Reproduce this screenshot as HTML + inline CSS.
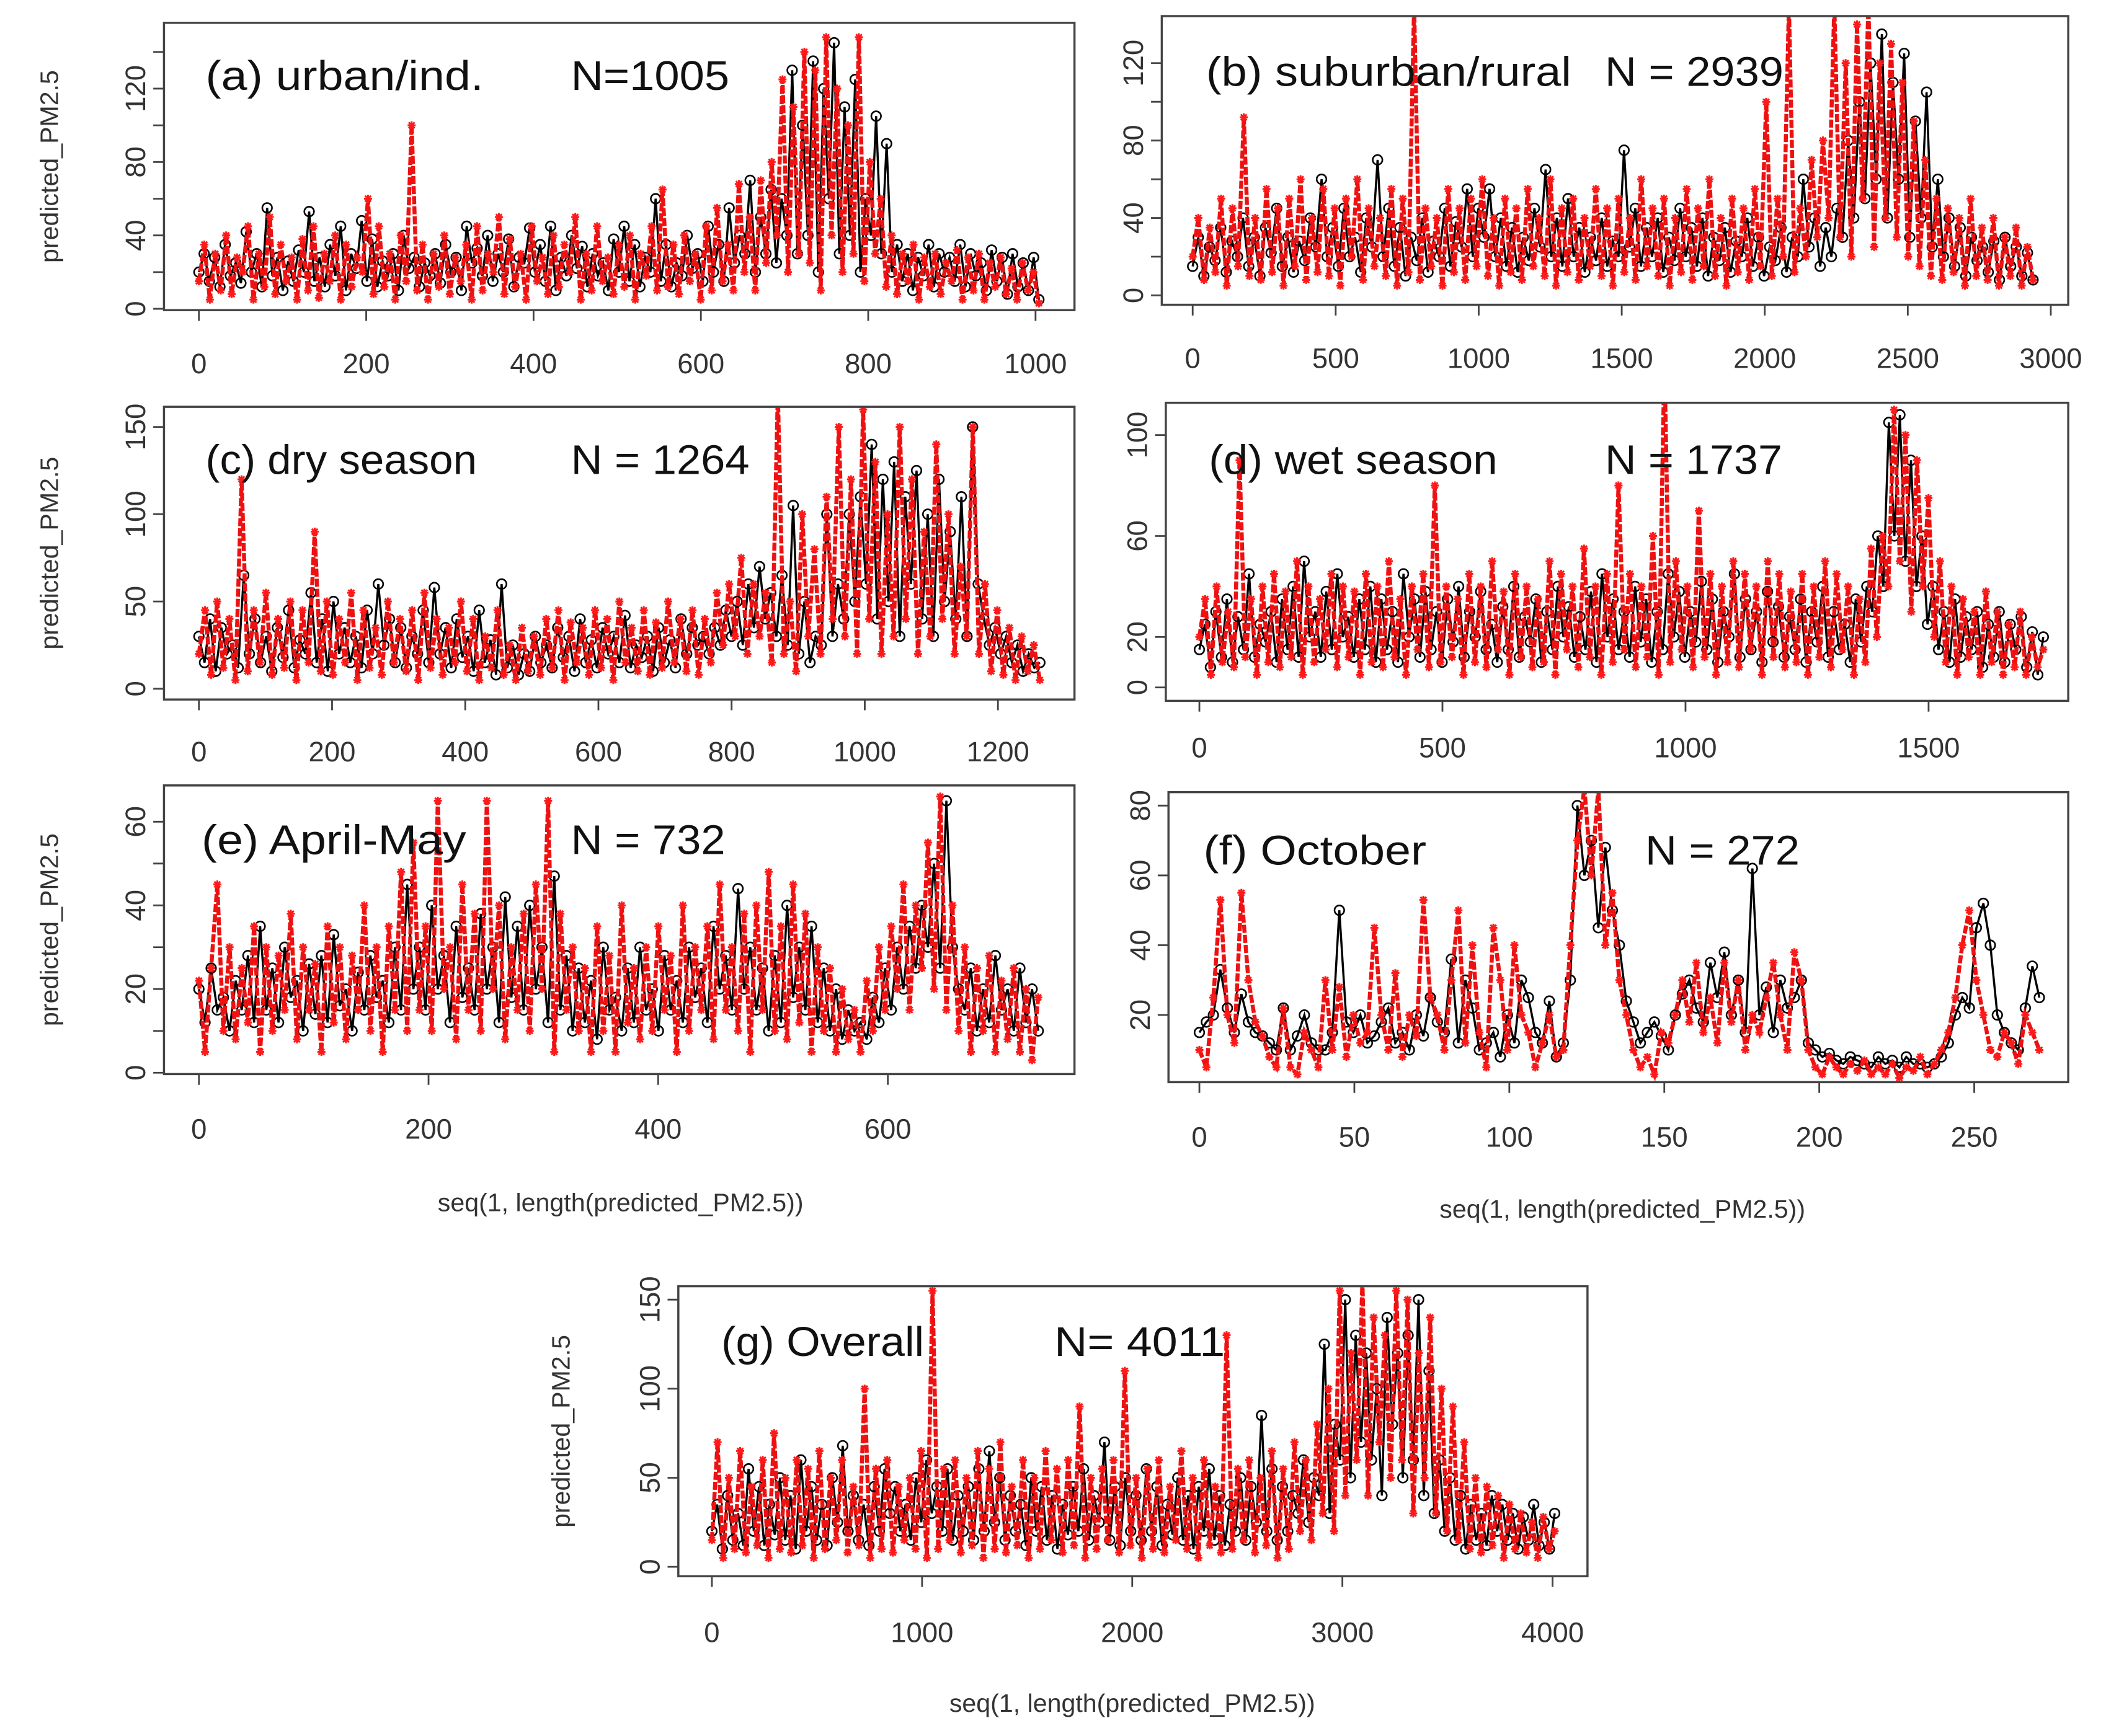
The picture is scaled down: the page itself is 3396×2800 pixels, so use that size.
<!DOCTYPE html>
<html><head><meta charset="utf-8"><style>
html,body{margin:0;padding:0;background:#fff}
svg{display:block}
text{font-family:"Liberation Sans",sans-serif}
.ttl{font-family:"Liberation Sans",sans-serif;font-size:31px;fill:#111}
.tick{font-size:21px;fill:#333}
.lab{font-size:19px;fill:#333}
</style></head><body>
<svg id="chart" width="3396" height="2800" viewBox="0 0 1568 1293" xmlns="http://www.w3.org/2000/svg"></svg>
<script>
// ---- data ----
const xTicksA=[0,200,400,600,800,1000];
const yTicksA=[0,40,80,120];
const blackA=[20,30,15,28,12,35,18,25,14,42,20,30,12,55,18,28,10,26,15,32,20,53,15,28,12,35,18,45,10,30,22,48,15,38,12,26,18,30,10,40,22,28,12,25,18,30,14,35,20,28,10,45,25,33,18,40,15,30,20,38,12,28,25,44,20,35,15,45,10,28,18,40,22,34,12,30,18,25,10,38,20,45,15,35,12,28,20,60,15,35,12,25,18,40,22,30,15,45,20,35,15,55,25,40,30,70,20,50,30,65,25,60,40,130,30,100,40,135,20,120,60,145,30,110,40,125,20,60,40,105,30,90,20,35,15,30,10,28,18,35,12,30,20,28,15,35,12,30,18,25,10,32,15,28,8,30,12,25,10,28,5];
const redA=[15,35,5,30,10,40,8,28,20,45,5,30,12,50,8,35,15,28,5,38,10,45,6,30,15,40,5,35,12,28,20,60,8,45,12,30,5,40,15,100,10,35,5,30,12,40,8,28,15,35,5,45,10,30,20,50,8,38,12,30,5,45,15,28,8,40,12,35,20,50,5,30,10,45,15,28,8,35,12,40,5,30,18,45,10,65,12,35,8,40,15,30,5,45,10,55,15,35,10,68,20,50,10,70,25,80,40,125,20,110,30,140,25,130,10,148,40,120,20,100,30,148,15,80,30,60,12,40,8,30,15,35,5,28,12,30,8,25,15,32,5,28,10,30,5,25,12,28,8,22,5,25,10,20,3];
const xTicksB=[0,500,1000,1500,2000,2500,3000];
const yTicksB=[0,40,80,120];
const blackB=[15,30,10,25,18,35,12,28,20,40,15,30,10,35,22,45,15,30,12,28,18,40,25,60,20,35,15,45,20,30,12,40,25,70,20,45,15,35,10,30,18,40,12,28,20,45,15,38,25,55,20,45,30,55,20,40,15,35,12,30,18,45,25,65,20,40,15,50,20,35,12,30,18,40,15,28,20,75,25,45,15,35,20,40,12,30,18,45,20,35,15,40,10,30,18,35,12,28,20,40,15,30,10,25,18,35,12,30,20,60,25,40,15,35,20,45,30,80,40,100,50,120,60,135,40,110,60,125,30,90,40,105,25,60,20,40,15,35,10,30,18,25,12,28,8,30,15,25,10,22,8];
const redB=[20,40,8,35,12,50,5,45,15,92,10,40,8,55,12,45,5,50,15,60,8,40,12,55,10,45,5,50,20,60,8,45,15,40,10,55,5,50,12,150,8,45,15,40,5,55,12,45,8,50,15,60,10,40,5,50,12,45,8,55,15,40,10,60,5,45,12,50,8,40,15,55,10,45,5,50,12,40,8,60,15,45,10,50,5,40,12,55,8,45,15,60,10,40,5,50,12,45,8,55,15,100,10,50,20,150,12,45,20,70,30,80,40,150,30,120,20,140,50,150,25,120,40,130,30,110,20,90,15,70,10,50,8,45,12,40,5,50,10,35,8,40,5,30,10,35,5,25,8];
const xTicksC=[0,200,400,600,800,1000,1200];
const yTicksC=[0,50,100,150];
const blackC=[30,15,40,10,35,20,25,12,65,20,40,15,30,10,35,18,45,12,28,20,55,15,40,10,50,20,35,15,30,12,45,20,60,25,40,15,35,12,30,20,45,15,58,20,35,12,40,18,30,10,45,15,28,8,60,12,25,8,20,10,30,15,25,12,35,18,30,10,40,15,28,12,35,20,30,15,42,12,25,18,30,10,35,15,28,12,40,20,35,25,30,20,35,25,45,30,50,25,60,35,70,40,55,30,65,25,105,20,50,15,30,25,100,30,60,40,100,50,110,60,140,40,120,50,130,30,110,60,125,40,100,30,120,50,90,40,110,30,150,60,40,25,35,20,30,15,25,10,20,12,15];
const redC=[20,45,8,50,12,40,5,120,10,45,15,55,8,40,12,50,5,45,15,90,10,50,8,40,15,55,5,45,12,35,8,50,15,40,10,45,5,55,12,40,8,35,15,50,10,40,5,30,12,45,8,25,5,35,10,30,8,40,12,45,5,38,15,35,8,45,12,40,5,50,15,35,10,45,8,38,12,50,15,40,10,45,8,40,15,55,25,60,30,75,20,60,30,55,15,170,20,50,10,100,30,80,20,110,40,150,30,120,20,160,40,130,20,100,30,150,40,120,20,90,30,140,40,100,20,70,30,150,20,60,10,45,8,35,5,30,10,25,5];
const xTicksD=[0,500,1000,1500];
const yTicksD=[0,20,60,100];
const blackD=[15,25,8,30,12,35,10,28,15,45,12,25,18,30,10,35,15,40,12,50,20,30,12,38,15,45,20,28,12,35,15,40,10,35,15,30,10,45,20,35,12,38,15,30,10,35,18,40,12,30,20,38,15,25,10,32,15,40,12,28,18,35,10,30,15,40,20,32,12,28,15,38,10,45,20,35,15,30,12,40,18,35,10,30,15,45,20,38,12,30,18,42,15,35,10,30,20,45,12,35,15,30,10,38,18,32,12,28,15,35,10,30,18,40,12,30,15,25,10,35,18,40,30,60,40,105,60,108,50,90,40,60,25,40,15,30,10,35,12,28,15,30,8,25,12,30,10,25,15,28,8,22,5,20];
const redD=[20,35,5,40,10,30,8,90,12,35,5,40,10,45,8,38,12,50,5,40,10,35,15,45,8,40,12,38,5,45,10,40,8,50,12,35,5,40,15,45,8,80,10,40,12,35,5,45,10,40,8,50,15,38,5,45,12,40,8,35,10,50,5,45,15,40,8,55,12,40,5,45,10,80,15,45,8,40,12,60,5,130,10,50,15,40,8,70,12,45,5,40,10,50,8,45,15,40,5,50,12,45,8,38,10,45,5,40,12,50,8,45,15,40,5,35,10,55,20,60,40,110,50,100,30,90,40,75,20,50,10,40,5,35,12,30,5,38,10,30,5,25,8,30,5,20,8,15];
const xTicksE=[0,200,400,600];
const yTicksE=[0,20,40,60];
const blackE=[20,12,25,15,18,10,22,15,28,12,35,15,25,12,30,18,22,10,26,14,28,12,33,16,20,10,24,15,28,18,22,12,30,15,45,20,30,15,40,20,28,12,35,18,25,15,38,20,30,12,42,18,35,15,40,20,30,12,47,15,28,10,25,12,22,8,30,15,18,10,25,12,30,15,20,10,28,15,22,12,30,18,25,12,35,20,28,15,44,20,30,15,25,10,28,12,40,18,30,15,35,12,25,10,20,8,15,10,12,8,18,12,25,15,30,20,35,25,40,30,50,25,65,30,20,15,25,10,20,12,28,15,20,10,25,12,20,10];
const redE=[22,5,25,45,10,30,8,25,12,35,5,30,10,28,15,38,8,30,15,26,5,35,12,30,8,28,15,40,10,30,5,35,15,48,10,55,15,35,10,65,20,30,8,45,15,38,10,65,20,40,8,30,15,38,10,45,20,65,5,38,15,30,10,25,5,35,10,28,5,40,12,25,8,30,10,35,15,28,5,40,10,30,15,35,8,45,15,30,10,38,5,40,15,48,10,35,8,45,12,38,5,30,10,25,5,20,8,15,5,22,10,30,15,35,20,45,15,40,25,55,20,66,15,40,10,30,5,25,10,28,5,22,8,25,5,20,3,18];
const xTicksF=[0,50,100,150,200,250];
const yTicksF=[20,40,60,80];
const blackF=[15,18,20,33,22,15,26,18,15,14,12,10,22,10,14,20,12,10,10,15,50,18,15,20,12,14,18,22,12,15,10,20,14,25,18,15,36,12,30,22,10,12,15,8,20,12,30,25,15,12,24,8,12,30,80,60,70,45,68,50,40,24,18,12,15,18,14,10,20,26,30,22,18,35,25,38,20,30,15,62,20,28,15,30,22,25,30,12,10,8,9,7,6,8,7,6,5,8,6,7,5,8,6,6,5,6,8,12,20,25,22,45,52,40,20,15,12,10,22,34,25];
const redF=[10,5,25,53,20,12,55,30,18,14,8,5,22,5,3,15,10,5,30,10,28,8,20,12,15,45,20,10,32,8,20,14,53,25,20,10,30,50,12,40,15,5,45,30,10,40,20,15,5,12,20,8,10,40,70,85,60,85,40,55,30,20,10,5,8,3,15,12,20,30,18,35,15,25,12,35,18,30,10,20,15,25,35,20,10,38,30,10,5,3,8,5,3,6,4,7,3,5,3,6,2,5,4,8,3,6,10,15,25,40,50,30,20,10,8,15,12,6,20,15,10];
const xTicksG=[0,1000,2000,3000,4000];
const yTicksG=[0,50,100,150];
const blackG=[20,35,10,40,15,30,12,55,20,45,12,35,18,50,15,40,10,60,20,45,15,35,12,50,25,68,20,40,15,35,12,45,20,55,30,45,20,35,15,50,25,60,30,45,20,55,15,40,20,45,15,55,20,65,25,50,15,40,20,35,12,50,20,45,15,40,10,35,18,45,20,55,15,40,25,70,15,45,12,50,20,40,15,55,20,45,12,35,18,50,15,40,10,45,20,55,15,40,12,35,20,50,15,45,25,85,20,55,15,45,20,40,30,60,25,50,40,125,30,80,60,150,50,130,70,120,60,100,40,140,80,120,50,130,60,150,40,110,30,60,20,50,15,40,10,35,15,30,12,40,20,35,15,30,10,28,15,35,12,25,10,30];
const redG=[15,70,5,50,10,65,8,45,12,60,5,75,10,50,8,60,12,55,5,65,10,50,15,60,8,45,12,100,5,55,10,60,8,45,15,50,10,65,5,155,10,55,15,60,8,50,12,65,5,55,10,70,8,45,12,60,5,50,10,65,15,55,8,60,12,90,5,50,10,55,15,60,8,110,12,50,5,55,10,60,8,45,15,65,10,50,5,60,12,45,8,130,10,55,15,60,8,50,12,65,5,55,10,70,20,60,15,80,30,100,20,155,40,120,60,160,40,140,70,130,50,155,60,150,30,120,50,140,30,100,20,90,15,70,10,50,8,45,12,40,5,35,10,30,8,25,5,28,10,20];

const panels=[
 {id:'a',box:[122,17,800,231],x0:148,xr:1000,xrp:771,y0:230,yr:120,yrp:66,N:1005,xt:xTicksA,yt:yTicksA,minor:20,ymax:140,bk:blackA,rd:redA,t:'(a) urban/ind.',tw:207,tx:153,ty:67,n:'N=1005',nw:118,nx:425,ylab:37,xlab:null,xly:278},
 {id:'b',box:[865,12,1540,227],x0:888,xr:3000,xrp:1527,y0:220,yr:120,yrp:47,N:2939,xt:xTicksB,yt:yTicksB,minor:20,ymax:130,bk:blackB,rd:redB,t:'(b) suburban/rural',tw:272,tx:898,ty:64,n:'N = 2939',nw:133,nx:1195,ylab:null,xlab:null,xly:274},
 {id:'c',box:[122,303,800,521],x0:148,xr:1200,xrp:743,y0:513,yr:150,yrp:318,N:1264,xt:xTicksC,yt:yTicksC,minor:null,ymax:150,bk:blackC,rd:redC,t:'(c) dry season',tw:202,tx:153,ty:353,n:'N = 1264',nw:133,nx:425,ylab:37,xlab:null,xly:567},
 {id:'d',box:[868,300,1540,522],x0:893,xr:1500,xrp:1436,y0:512,yr:100,yrp:324,N:1737,xt:xTicksD,yt:yTicksD,minor:null,ymax:100,bk:blackD,rd:redD,t:'(d) wet season',tw:215,tx:900,ty:353,n:'N = 1737',nw:132,nx:1195,ylab:null,xlab:null,xly:564},
 {id:'e',box:[122,585,800,800],x0:148,xr:600,xrp:661,y0:799,yr:60,yrp:612,N:732,xt:xTicksE,yt:yTicksE,minor:10,ymax:60,bk:blackE,rd:redE,t:'(e) April-May',tw:197,tx:150,ty:636,n:'N = 732',nw:115,nx:425,ylab:37,xlab:[462,902],xly:848},
 {id:'f',box:[870,590,1540,806],x0:893,xr:250,xrp:1470,y0:808,yr:80,yrp:600,N:272,xt:xTicksF,yt:yTicksF,minor:null,ymax:80,bk:blackF,rd:redF,t:'(f) October',tw:166,tx:896,ty:644,n:'N = 272',nw:115,nx:1225,ylab:null,xlab:[1208,907],xly:854},
 {id:'g',box:[505,958,1182,1174],x0:530,xr:4000,xrp:1156,y0:1167,yr:150,yrp:968,N:4011,xt:xTicksG,yt:yTicksG,minor:null,ymax:150,bk:blackG,rd:redG,t:'(g) Overall',tw:151,tx:537,ty:1010,n:'N= 4011',nw:127,nx:785,ylab:418,xlab:[843,1275],xly:1223}
];
const NS='http://www.w3.org/2000/svg';
const svg=document.getElementById('chart');
function mk(tag,attrs,parent){const e=document.createElementNS(NS,tag);for(const k in attrs)e.setAttribute(k,attrs[k]);(parent||svg).appendChild(e);return e;}
panels.forEach(p=>{
 const g=mk('g',{});
 
 
 const xs=v=>p.x0+v*(p.xrp-p.x0)/p.xr;
 const ys=v=>p.y0-v*(p.y0-p.yrp)/p.yr;
 const [L,T,R,B]=p.box;
 const cp=mk('clipPath',{id:'clip'+p.id},g);
 mk('rect',{x:L,y:T,width:R-L,height:B-T},cp);
 const plot=mk('g',{'clip-path':'url(#clip'+p.id+')'},g);
 
 
 const pos=(arr,i)=>xs(i*(p.N-1)/(arr.length-1));
 const bpts=p.bk.map((v,i)=>pos(p.bk,i).toFixed(1)+','+ys(v).toFixed(1)).join(' ');
 const bl=mk('polyline',{points:bpts,fill:'none',stroke:'#000','stroke-width':1.6},plot);
 
 
 p.bk.forEach((v,i)=>{
  const c=mk('circle',{cx:pos(p.bk,i),cy:ys(v),r:3.6,fill:'none',stroke:'#000','stroke-width':1.2},plot);
  
  
 });
 const rpts=p.rd.map((v,i)=>pos(p.rd,i).toFixed(1)+','+ys(v).toFixed(1)).join(' ');
 const rl=mk('polyline',{points:rpts,fill:'none',stroke:'#ee1111','stroke-width':3,'stroke-dasharray':'6,1.5'},plot);
 
 
 p.rd.forEach((v,i)=>{
  const x=pos(p.rd,i),y=ys(v),s=3;
  const st=mk('path',{d:`M${x-s},${y}H${x+s}M${x},${y-s}V${y+s}M${x-2.2},${y-2.2}L${x+2.2},${y+2.2}M${x-2.2},${y+2.2}L${x+2.2},${y-2.2}`,stroke:'#ff1a1a','stroke-width':1.4},plot);
  
  
 });
 const bx=mk('rect',{x:L,y:T,width:R-L,height:B-T,fill:'none',stroke:'#444','stroke-width':1.6},g);
 
 
 p.xt.forEach(v=>{
  const x=xs(v);
  mk('line',{x1:x,y1:B,x2:x,y2:B+8,stroke:'#444','stroke-width':1.3},g);
  const t=mk('text',{x:x,y:p.xly,'text-anchor':'middle',class:'tick'},g);
  t.textContent=v;
  
  
 });
 const step=p.minor;
 const yvals=[];
 if(step){for(let v=0;v<=p.ymax;v+=step)yvals.push(v);} else p.yt.forEach(v=>yvals.push(v));
 yvals.forEach(v=>mk('line',{x1:L-8,y1:ys(v),x2:L,y2:ys(v),stroke:'#444','stroke-width':1.3},g));
 p.yt.forEach(v=>{
  const y=ys(v),x=L-14;
  const t=mk('text',{x:x,y:y,'text-anchor':'middle',transform:`rotate(-90 ${x} ${y})`,class:'tick'},g);
  t.textContent=v;
  
  
 });
 if(p.ylab){
  const cy=(T+B)/2, x=p.ylab+6;
  const t=mk('text',{x:x,y:cy,'text-anchor':'middle',transform:`rotate(-90 ${x} ${cy})`,class:'lab'},g);
  t.textContent='predicted_PM2.5';
  
  
 }
 if(p.xlab){
  const t=mk('text',{x:p.xlab[0],y:p.xlab[1],'text-anchor':'middle',class:'lab'},g);
  t.textContent='seq(1, length(predicted_PM2.5))';
  
  
 }
 const tt=mk('text',{x:p.tx,y:p.ty,class:'ttl',textLength:p.tw,lengthAdjust:'spacingAndGlyphs'},g);
 tt.textContent=p.t;
 
 
 const nt=mk('text',{x:p.nx,y:p.ty,class:'ttl',textLength:p.nw,lengthAdjust:'spacingAndGlyphs'},g);
 nt.textContent=p.n;
 
 
});
</script>
</body></html>
